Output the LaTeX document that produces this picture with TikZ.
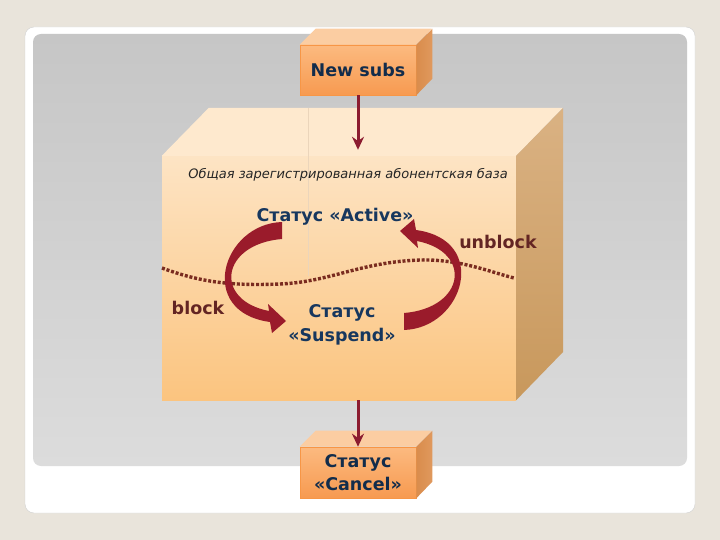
\documentclass[tikz,border=0pt]{standalone}
\usepackage{fontspec}
\setmainfont{DejaVu Sans}
\usetikzlibrary{arrows.meta,positioning}

\definecolor{pagebg}{HTML}{E9E4DB}
\definecolor{panelgray}{HTML}{C6C6C6}
\definecolor{panellight}{HTML}{DCDCDC}
\definecolor{cubetop}{HTML}{FEE9CE}
\definecolor{cubefronttop}{HTML}{FDE4C4}
\definecolor{cubefrontbot}{HTML}{FBC47F}
\definecolor{cubeside}{HTML}{DAB283}
\definecolor{cubesidedark}{HTML}{C8985C}
\definecolor{boxtop}{HTML}{FBCDA2}
\definecolor{boxfront}{HTML}{FCBA80}
\definecolor{boxfrontdark}{HTML}{F79A50}
\definecolor{boxside}{HTML}{D98C4C}
\definecolor{boxedge}{HTML}{F79646}
\definecolor{linkred}{HTML}{8C1C30}
\definecolor{bendred}{HTML}{9A1B2B}
\definecolor{statusblue}{HTML}{17375E}
\definecolor{labelbrown}{HTML}{632523}
\definecolor{waveline}{HTML}{7A2C20}

\begin{document}
\begin{tikzpicture}[x=1pt,y=-1pt,
  boxface/.style={draw=boxedge,line width=0.6pt,top color=boxfront,bottom color=boxfrontdark,
    minimum width=116pt,minimum height=50pt,inner sep=0pt,align=center,
    font=\fontsize{17.5}{23}\selectfont\bfseries,text=statusblue!80!black},
  link/.style={draw=linkred,line width=3pt,-{Stealth[length=13pt,width=12pt]}},
  status/.style={font=\fontsize{17.5}{24}\selectfont\bfseries,text=statusblue,align=center},
  action/.style={font=\fontsize{17.5}{20}\selectfont\bfseries,text=labelbrown},
  pics/bendarrow/.style={code={
    \fill[bendred] (-61,-54) .. controls (-121,-52) and (-147,36) .. (-73,46)
      -- (-71,57) -- (-57,45) -- (-75,28) -- (-74,35)
      .. controls (-130,24) and (-122,-32) .. (-61,-37) -- cycle;
  }}]

% slide background
\fill[pagebg] (0,0) rectangle (720,540);
\useasboundingbox (0,0) rectangle (720,540);
\draw[black!18,fill=white,rounded corners=9pt] (25,27) rectangle (695,513);
\shade[top color=panelgray,bottom color=panellight,rounded corners=8pt] (33,34) rectangle (687,466);

% the big cube
\node[top color=cubefronttop,bottom color=cubefrontbot,minimum width=354pt,minimum height=244pt,inner sep=0pt] (base) at (339,278) {};
\fill[cubetop] (base.north west) -- ++(47,-48) -- ++(354,0) -- (base.north east) -- cycle;
\shade[top color=cubeside,bottom color=cubesidedark] (base.north east) -- ++(47,-48) -- ++(0,244) -- (base.south east) -- cycle;
\draw[cubeside!55,line width=0.5pt] (308,108) -- (308,276);

\node[font=\fontsize{13}{15}\selectfont\itshape,text=black!85] (basename) at (348,175) {Общая зарегистрированная абонентская база};

\node[status] (active) at (335,217) {Статус «Active»};
\node[status] (suspend) at (342,325) {Статус\\«Suspend»};
\node[action] (unblock) at (498,242) {unblock};
\node[action] (block) at (198,308) {block};

% border between the two states
\draw[waveline,line width=3.4pt,dash pattern=on 3pt off 1.8pt]
  (162,268) .. controls (200,282) and (230,286) .. (280,284)
  .. controls (330,282) and (360,262) .. (420,260)
  .. controls (460,259) and (490,272) .. (514,278);

% block / unblock
\coordinate (swap) at (343,276);
\pic at (swap) {bendarrow};
\pic[rotate=180] at (swap) {bendarrow};

% entry and exit boxes
\node[boxface] (new) at (358,70) {New subs};
\fill[boxtop] (new.north west) -- ++(16,-16) -- ++(116,0) -- (new.north east) -- cycle;
\shade[left color=boxside,right color=boxside!80!boxtop] (new.north east) -- ++(16,-16) -- ++(0,50) -- (new.south east) -- cycle;

\node[boxface,minimum height=51pt] (cancel) at (358,472.5) {Статус\\«Cancel»};
\fill[boxtop] (cancel.north west) -- ++(16,-16) -- ++(116,0) -- (cancel.north east) -- cycle;
\shade[left color=boxside,right color=boxside!80!boxtop] (cancel.north east) -- ++(16,-16) -- ++(0,51) -- (cancel.south east) -- cycle;

\draw[link,shorten >=6pt] (new) -- (new |- base.north);
\draw[link] (base.south -| cancel) -- (cancel);

\end{tikzpicture}
\end{document}
